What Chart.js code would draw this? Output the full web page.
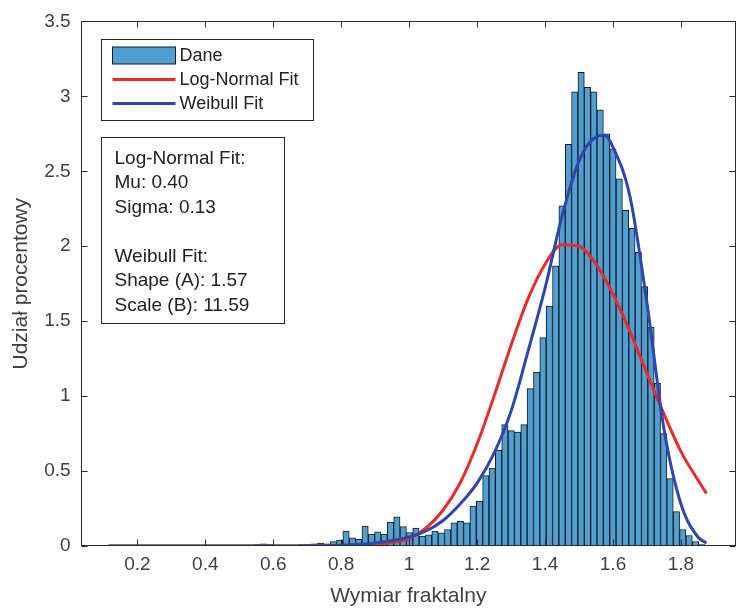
<!DOCTYPE html>
<html>
<head>
<meta charset="utf-8">
<script src="https://cdn.jsdelivr.net/npm/chart.js@4.4.1/dist/chart.umd.min.js"></script>
<style>
  html, body { margin: 0; padding: 0; background: #fff; }
  #wrap { width: 738px; height: 609px; }
</style>
</head>
<body>
<div id="wrap"><canvas id="chart" width="738" height="609"></canvas></div>
<script>
// histogram bins
const binStart = 0.113;
const binWidth = 0.0187;
const binHeights = [
  0, 0, 0, 0, 0, 0, 0, 0, 0, 0,
  0, 0, 0, 0, 0, 0, 0, 0, 0, 0,
  0, 0, 0, 0.01, 0.015, 0.01, 0, 0, 0.005, 0.005,
  0.01, 0.01, 0.015, 0.02, 0.015, 0.03, 0.04, 0.10, 0.055, 0.045,
  0.133, 0.08, 0.095, 0.08, 0.16, 0.195, 0.13, 0.09, 0.12, 0.066,
  0.075, 0.10, 0.088, 0.11, 0.155, 0.165, 0.155, 0.266, 0.30, 0.47,
  0.52, 0.64, 0.81, 0.77, 0.76, 0.81, 1.05, 1.16, 1.39, 1.60,
  1.87, 2.27, 2.68, 3.03, 3.16, 3.06, 3.03, 2.91, 2.75, 2.65,
  2.45, 2.24, 2.12, 1.96, 1.73, 1.46, 1.085, 0.75, 0.45, 0.23,
  0.11, 0.07, 0.03, 0.01
];

// fitted curves, sampled by eye
const logNormalX = [0.115, 0.6, 0.8, 0.9, 0.95, 1.0, 1.05, 1.1, 1.15, 1.2, 1.25, 1.3, 1.35, 1.4, 1.45, 1.5, 1.55, 1.6, 1.65, 1.7, 1.75, 1.8, 1.85, 1.875];
const logNormalY = [0, 0, 0.003, 0.012, 0.025, 0.05, 0.12, 0.24, 0.42, 0.68, 1.0, 1.34, 1.65, 1.88, 2.01, 2.0, 1.88, 1.68, 1.43, 1.15, 0.88, 0.63, 0.44, 0.35];
const weibullX = [0.115, 0.6, 0.8, 0.9, 1.0, 1.05, 1.1, 1.15, 1.2, 1.25, 1.3, 1.35, 1.4, 1.45, 1.5, 1.55, 1.575, 1.6, 1.65, 1.7, 1.75, 1.8, 1.85, 1.875];
const weibullY = [0, 0, 0.005, 0.02, 0.06, 0.10, 0.17, 0.28, 0.42, 0.62, 0.90, 1.30, 1.72, 2.20, 2.57, 2.73, 2.74, 2.66, 2.33, 1.62, 0.78, 0.28, 0.06, 0.02];

const xTicks = [0.2, 0.4, 0.6, 0.8, 1, 1.2, 1.4, 1.6, 1.8];
const yTicks = [0, 0.5, 1, 1.5, 2, 2.5, 3, 3.5];
const legendLabels = ['Dane', 'Log-Normal Fit', 'Weibull Fit'];
const statsLines = ['Log-Normal Fit:', 'Mu: 0.40', 'Sigma: 0.13', '', 'Weibull Fit:', 'Shape (A): 1.57', 'Scale (B): 11.59'];
const xLabel = 'Wymiar fraktalny';
const yLabel = 'Udział procentowy';

const FONT = '"Liberation Sans", Arial, Helvetica, sans-serif';
const AXIS = '#2b2b2b';
const TEXT = '#404040';
const BAR_FILL = '#4f9fd3';
const RED = '#ec2a2a';
const BLUE = '#2d46b0';

const histData = binHeights.map((h, i) => ({ x: binStart + binWidth * (i + 0.5), y: h }));
const toPoints = (xs, ys) => xs.map((x, i) => ({ x, y: ys[i] }));

// box, inward ticks, legend and text annotation like the MATLAB figure
const matlabDecor = {
  id: 'matlabDecor',
  afterDraw(chart) {
    const { ctx, chartArea: a, scales: { x, y } } = chart;
    const L = Math.round(a.left) + 0.5, R = Math.round(a.right) - 0.5;
    const T = Math.round(a.top) + 0.5, B = Math.round(a.bottom) - 0.5;
    ctx.save();
    ctx.strokeStyle = AXIS;
    ctx.lineWidth = 1;
    ctx.strokeRect(L, T, R - L, B - T);
    ctx.beginPath();
    xTicks.forEach(v => {
      const px = Math.round(x.getPixelForValue(v)) + 0.5;
      ctx.moveTo(px, B); ctx.lineTo(px, B - 6);
      ctx.moveTo(px, T); ctx.lineTo(px, T + 6);
    });
    yTicks.forEach(v => {
      const py = Math.round(y.getPixelForValue(v)) + 0.5;
      ctx.moveTo(L, py); ctx.lineTo(L + 6, py);
      ctx.moveTo(R, py); ctx.lineTo(R - 6, py);
    });
    ctx.stroke();

    // legend
    const lx = L + 20, ly = T + 18;
    ctx.fillStyle = '#fff';
    ctx.fillRect(lx, ly, 212, 81);
    ctx.strokeStyle = '#262626';
    ctx.strokeRect(lx, ly, 212, 81);
    ctx.font = '18px ' + FONT;
    ctx.textBaseline = 'middle';
    ctx.textAlign = 'left';
    const ds = chart.data.datasets;
    legendLabels.forEach((label, i) => {
      const ry = ly + 16 + i * 24;
      if (i === 0) {
        ctx.fillStyle = BAR_FILL;
        ctx.fillRect(lx + 11, ry - 8.5, 63, 17);
        ctx.strokeStyle = '#1a1a1a';
        ctx.strokeRect(lx + 11, ry - 8.5, 63, 17);
      } else {
        ctx.strokeStyle = ds[i].borderColor;
        ctx.lineWidth = 3;
        ctx.beginPath();
        ctx.moveTo(lx + 11, ry); ctx.lineTo(lx + 74, ry);
        ctx.stroke();
        ctx.lineWidth = 1;
      }
      ctx.fillStyle = '#222';
      ctx.fillText(label, lx + 78, ry + 1);
    });

    // stats text box
    const sx = L + 20, sy = T + 116;
    ctx.fillStyle = '#fff';
    ctx.fillRect(sx, sy, 183, 186);
    ctx.strokeStyle = '#262626';
    ctx.strokeRect(sx, sy, 183, 186);
    ctx.fillStyle = '#222';
    ctx.font = '19px ' + FONT;
    ctx.textBaseline = 'alphabetic';
    statsLines.forEach((line, i) => {
      ctx.fillText(line, sx + 13, sy + 26 + i * 24.5);
    });
    ctx.restore();
  }
};

new Chart(document.getElementById('chart'), {
  type: 'bar',
  data: {
    datasets: [
      {
        type: 'bar',
        label: legendLabels[0],
        data: histData,
        backgroundColor: BAR_FILL,
        borderColor: '#1a1a1a',
        borderWidth: 1,
        borderSkipped: false,
        barPercentage: 1,
        categoryPercentage: 1,
        order: 3
      },
      {
        type: 'line',
        label: legendLabels[1],
        data: toPoints(logNormalX, logNormalY),
        borderColor: RED,
        borderWidth: 3,
        pointRadius: 0,
        cubicInterpolationMode: 'monotone',
        fill: false,
        order: 2
      },
      {
        type: 'line',
        label: legendLabels[2],
        data: toPoints(weibullX, weibullY),
        borderColor: BLUE,
        borderWidth: 3,
        pointRadius: 0,
        cubicInterpolationMode: 'monotone',
        fill: false,
        order: 1
      }
    ]
  },
  options: {
    responsive: false,
    devicePixelRatio: 1,
    animation: false,
    layout: { padding: { left: 7, right: 2, top: 17, bottom: 0 } },
    plugins: {
      legend: { display: false },
      tooltip: { enabled: false }
    },
    scales: {
      x: {
        type: 'linear',
        offset: false,
        min: 0.033,
        max: 1.962,
        grid: { display: false, drawTicks: false },
        border: { display: false },
        afterBuildTicks: s => { s.ticks = xTicks.map(v => ({ value: v })); },
        ticks: {
          padding: 7,
          color: TEXT,
          font: { family: FONT, size: 19 },
          maxRotation: 0,
          autoSkip: false,
          callback: v => String(v)
        },
        title: {
          display: true,
          text: xLabel,
          color: TEXT,
          font: { family: FONT, size: 21 },
          padding: { top: 1, bottom: 0 }
        }
      },
      y: {
        min: 0,
        max: 3.5,
        grid: { display: false, drawTicks: false },
        border: { display: false },
        afterBuildTicks: s => { s.ticks = yTicks.map(v => ({ value: v })); },
        ticks: {
          padding: 10,
          color: TEXT,
          font: { family: FONT, size: 19 },
          autoSkip: false,
          callback: v => String(v)
        },
        title: {
          display: true,
          text: yLabel,
          color: TEXT,
          font: { family: FONT, size: 21 },
          padding: { top: 2, bottom: 0 }
        }
      }
    }
  },
  plugins: [matlabDecor]
});
</script>
</body>
</html>
